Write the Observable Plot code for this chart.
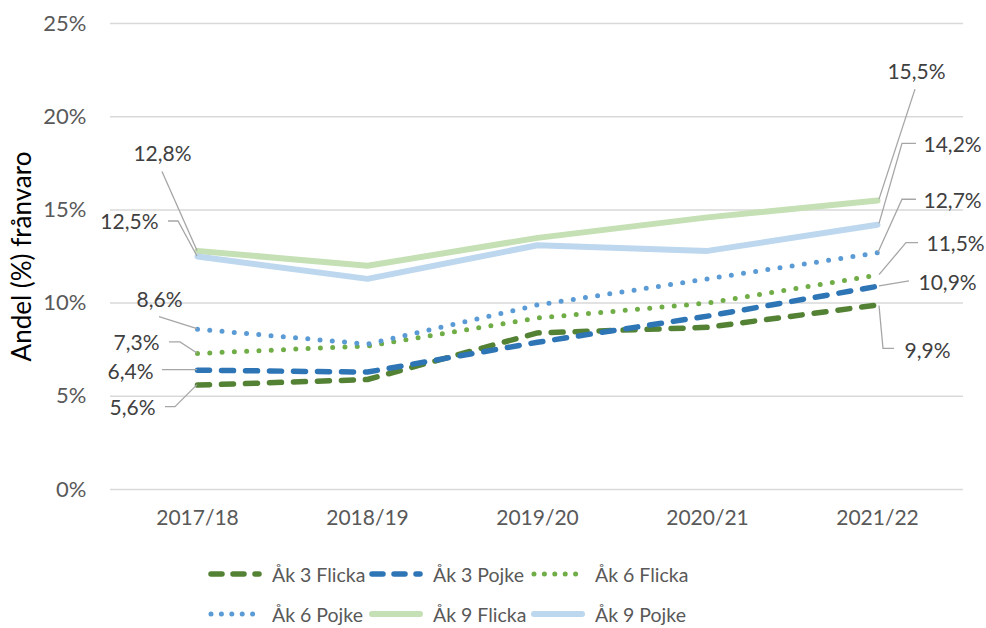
<!DOCTYPE html>
<html><head><meta charset="utf-8">
<script src="https://cdn.jsdelivr.net/npm/d3@7"></script>
<script src="https://cdn.jsdelivr.net/npm/@observablehq/plot@0.6"></script>
<style>
body{margin:0;background:#fff;font-family:Lato,"Noto Sans",sans-serif;}
#wrap{position:relative;width:986px;height:628px;overflow:hidden;}
#legend{position:absolute;left:207px;top:554px;display:grid;grid-template-columns:161px 162px 170px;grid-auto-rows:40px;}
.item{display:flex;align-items:center;font-size:19.5px;color:#595959;white-space:nowrap;}
.item svg{margin-right:9px;}
</style></head><body>
<div id="wrap"><div id="chart"></div><div id="legend"></div></div>
<script>
// ---- data ----
const years = ["2017/18", "2018/19", "2019/20", "2020/21", "2021/22"];
const seriesNames = ["Åk 3 Flicka", "Åk 3 Pojke", "Åk 6 Flicka", "Åk 6 Pojke", "Åk 9 Flicka", "Åk 9 Pojke"];
const ak3Flicka = [5.6, 5.9, 8.4, 8.7, 9.9];
const ak3Pojke  = [6.4, 6.3, 7.9, 9.3, 10.9];
const ak6Flicka = [7.3, 7.7, 9.2, 10.0, 11.5];
const ak6Pojke  = [8.6, 7.8, 9.9, 11.3, 12.7];
const ak9Flicka = [12.8, 12.0, 13.5, 14.6, 15.5];
const ak9Pojke  = [12.5, 11.3, 13.1, 12.8, 14.2];
const yTicks = [0, 5, 10, 15, 20, 25];
const yTitle = "Andel (%) frånvaro";

// ---- styles ----
const seriesValues = [ak3Flicka, ak3Pojke, ak6Flicka, ak6Pojke, ak9Flicka, ak9Pojke];
const seriesStyle = [
  {stroke: "#548235", strokeWidth: 5.5, dash: "12 12", legendDash: "11 11"},
  {stroke: "#2E75B6", strokeWidth: 5.5, dash: "12 12", legendDash: "11 11"},
  {stroke: "#70AD47", strokeWidth: 5, dash: "0 12.3", legendDash: "0 10.4"},
  {stroke: "#5B9BD5", strokeWidth: 5, dash: "0 12.3", legendDash: "0 10.4"},
  {stroke: "#C5E0B4", strokeWidth: 6, dash: null, legendDash: null},
  {stroke: "#BDD7EE", strokeWidth: 6, dash: null, legendDash: null}
];
// leader/label layout: pixel offsets relative to the data point
const labelLayout = [
  {s: 4, i: 0, path: [[-35, -79], [0, 0]], dx: -35, dy: -97, anchor: "middle"},
  {s: 5, i: 0, path: [[-29, -35], [-19, -35], [0, 0]], dx: -39, dy: -34, anchor: "end"},
  {s: 3, i: 0, path: [[-38, -12], [0, 0]], dx: -38, dy: -29, anchor: "middle"},
  {s: 2, i: 0, path: [[-28, -11], [-17, -11], [0, 0]], dx: -38, dy: -10, anchor: "end"},
  {s: 1, i: 0, path: [[-35, 0], [0, 0]], dx: -44, dy: 2, anchor: "end"},
  {s: 0, i: 0, path: [[-32, 22], [-22, 22], [0, 0]], dx: -42, dy: 23, anchor: "end"},
  {s: 4, i: 4, path: [[2, -1], [38, -111]], dx: 39, dy: -128, anchor: "middle"},
  {s: 5, i: 4, path: [[2, -1], [25, -81], [39, -81]], dx: 46, dy: -80, anchor: "start"},
  {s: 3, i: 4, path: [[1, 0], [25, -53], [39, -53]], dx: 46, dy: -52, anchor: "start"},
  {s: 2, i: 4, path: [[2, 0], [29, -32], [41, -32]], dx: 49, dy: -31, anchor: "start"},
  {s: 1, i: 4, path: [[2, 0], [32, -5]], dx: 41, dy: -3, anchor: "start"},
  {s: 0, i: 4, path: [[2, 1], [6, 44], [17, 44]], dx: 27, dy: 46, anchor: "start"}
];

const rows = [];
seriesNames.forEach((name, s) => years.forEach((year, i) => rows.push({serie: name, s, year, value: seriesValues[s][i]})));
const fmt = v => d3.format(".1f")(v).replace(".", ",") + "%";

const lineMarks = seriesNames.map((name, s) => Plot.line(rows.filter(r => r.s === s), {
  x: "year", y: "value", stroke: seriesStyle[s].stroke, strokeWidth: seriesStyle[s].strokeWidth,
  strokeDasharray: seriesStyle[s].dash || undefined, strokeLinecap: "round", strokeLinejoin: "round"
}));

const leaderMark = (index, scales) => {
  const g = d3.create("svg:g").attr("fill", "none").attr("stroke", "#A6A6A6").attr("stroke-width", 1.3);
  for (const L of labelLayout) {
    const px = scales.x(years[L.i]), py = scales.y(seriesValues[L.s][L.i]);
    g.append("polyline").attr("points", L.path.map(([dx, dy]) => `${px + dx},${py + dy}`).join(" "));
  }
  return g.node();
};

const labelMarks = labelLayout.map(L => Plot.text([{year: years[L.i], value: seriesValues[L.s][L.i]}], {
  x: "year", y: "value", text: d => fmt(d.value), dx: L.dx, dy: L.dy, textAnchor: L.anchor,
  fill: "#404040", fontSize: 21
}));

const chart = Plot.plot({
  width: 986, height: 545,
  marginLeft: 110, marginRight: 23, marginTop: 23, marginBottom: 56,
  style: {fontFamily: "Lato, 'Noto Sans', sans-serif", fontSize: "21px", color: "#595959", background: "#fff", overflow: "visible"},
  x: {type: "point", domain: years, padding: 0.5},
  y: {domain: [0, 25]},
  marks: [
    Plot.gridY(yTicks, {stroke: "#D9D9D9", strokeOpacity: 1, strokeWidth: 1.5}),
    Plot.axisY(yTicks, {tickSize: 0, tickPadding: 24, tickFormat: d => d + "%", label: null, fontSize: 22}),
    Plot.axisX({tickSize: 0, tickPadding: 21, label: null, fontSize: 21}),
    Plot.text([yTitle], {frameAnchor: "left", textAnchor: "middle", rotate: -90, dx: -88, fontSize: 26, fill: "#000"}),
    ...lineMarks,
    leaderMark,
    ...labelMarks
  ]
});
document.getElementById("chart").appendChild(chart);

// legend
const legend = document.getElementById("legend");
seriesNames.forEach((name, s) => {
  const st = seriesStyle[s];
  const item = document.createElement("div");
  item.className = "item";
  item.innerHTML = `<svg width="56" height="12"><line x1="4" y1="6" x2="52" y2="6" stroke="${st.stroke}" stroke-width="${st.strokeWidth}" stroke-linecap="round" ${st.legendDash ? `stroke-dasharray="${st.legendDash}"` : ""}/></svg><span>${name}</span>`;
  legend.appendChild(item);
});
</script>
</body></html>
